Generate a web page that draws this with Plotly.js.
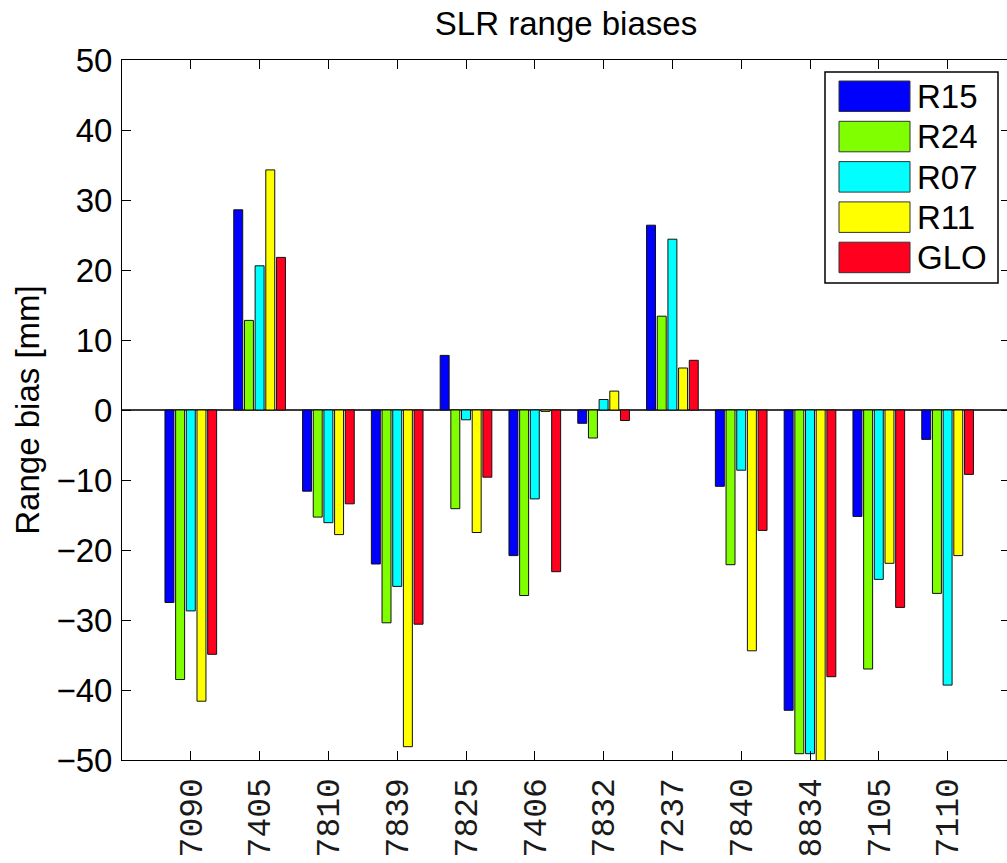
<!DOCTYPE html>
<html>
<head>
<meta charset="utf-8">
<script src="https://cdn.plot.ly/plotly-3.0.1.min.js"></script>
<style>
  html, body { margin: 0; padding: 0; overflow: hidden; background: #ffffff; }
  #chart { width: 1010px; height: 863px; }
</style>
</head>
<body>
<div id="chart"></div>
<script>
// ---- data ----
const stations = ['7090','7405','7810','7839','7825','7406','7832','7237','7840','8834','7105','7110'];
const R15 = [-27.5, 28.6, -11.6, -22.0,   7.8, -20.8, -1.9, 26.4, -10.9, -42.9, -15.2,  -4.2];
const R24 = [-38.5, 12.8, -15.3, -30.4, -14.1, -26.5, -4.0, 13.4, -22.1, -49.1, -37.0, -26.2];
const R07 = [-28.7, 20.6, -16.1, -25.2,  -1.4, -12.7,  1.5, 24.4,  -8.6, -49.1, -24.2, -39.3];
const R11 = [-41.6, 34.3, -17.8, -48.1, -17.5,  -0.2,  2.7,  6.0, -34.4, -52.0, -21.9, -20.8];
const GLO = [-34.9, 21.8, -13.4, -30.6,  -9.6, -23.1, -1.5,  7.1, -17.2, -38.1, -28.2,  -9.2];
const seriesNames = ['R15', 'R24', 'R07', 'R11', 'GLO'];
const seriesValues = [R15, R24, R07, R11, GLO];
const seriesColors = ['#0000ff', '#80ff00', '#00ffff', '#ffff00', '#ff001e'];
const yTickVals = [-50, -40, -30, -20, -10, 0, 10, 20, 30, 40, 50];

// ---- figure geometry (pixels) ----
const W = 1010, H = 863;
const M = { l: 122, r: 0, t: 60, b: 103 };
const plotW = W - M.l - M.r, plotH = H - M.t - M.b;
const px2x = p => (p - M.l) / plotW;
const py2y = p => 1 - (p - M.t) / plotH;

const sansFont = 'Liberation Sans, Arial, sans-serif';

const traces = seriesNames.map((name, i) => ({
  type: 'bar',
  name: name,
  x: stations,
  y: seriesValues[i],
  marker: { color: seriesColors[i], line: { color: '#111111', width: 1 } },
  showlegend: false,
  hoverinfo: 'x+y+name'
}));

// manual MATLAB-style legend built from the series names/colours
const shapes = [{
  type: 'rect', xref: 'paper', yref: 'paper', layer: 'above',
  x0: px2x(825), x1: px2x(998), y0: py2y(72), y1: py2y(283),
  fillcolor: '#ffffff', line: { color: '#000000', width: 1.5 }
}];
const annotations = [];
seriesNames.forEach((name, k) => {
  const top = 81 + 40.3 * k;
  shapes.push({
    type: 'rect', xref: 'paper', yref: 'paper', layer: 'above',
    x0: px2x(839), x1: px2x(910), y0: py2y(top), y1: py2y(top + 30.5),
    fillcolor: seriesColors[k], line: { color: '#333333', width: 1 }
  });
  annotations.push({
    xref: 'paper', yref: 'paper', x: px2x(915), y: py2y(top + 15.5),
    xanchor: 'left', yanchor: 'middle', showarrow: false,
    text: name, font: { family: sansFont, size: 33, color: '#000000' }
  });
});

const layout = {
  width: W, height: H,
  margin: M,
  paper_bgcolor: '#ffffff', plot_bgcolor: '#ffffff',
  font: { family: sansFont, size: 33, color: '#000000' },
  title: {
    text: 'SLR range biases',
    font: { family: sansFont, size: 33, color: '#000000' },
    xref: 'paper', x: 0.5, xanchor: 'center',
    yref: 'container', y: 1 - 23 / H, yanchor: 'middle'
  },
  barmode: 'group',
  bargap: 0.224,
  bargroupgap: 0.16,
  xaxis: {
    type: 'category',
    range: [-1, -1 + plotW / 68.8],
    showline: true, linecolor: '#000000', linewidth: 1, mirror: 'ticks',
    ticks: 'inside', ticklen: 9, tickcolor: '#000000', tickwidth: 1,
    tickangle: -90,
    tickfont: { family: 'Liberation Mono, Courier New, monospace', size: 33, color: '#1a1a1a' },
    ticklabelstandoff: 4,
    showgrid: false, zeroline: false, fixedrange: true
  },
  yaxis: {
    range: [-50, 50],
    tickvals: yTickVals,
    showline: true, linecolor: '#000000', linewidth: 1, mirror: 'ticks',
    ticks: 'inside', ticklen: 9, tickcolor: '#000000', tickwidth: 1,
    tickfont: { family: sansFont, size: 33, color: '#000000' },
    ticklabelstandoff: 2,
    showgrid: false,
    zeroline: true, zerolinecolor: '#3a3a3a', zerolinewidth: 1.2,
    title: { text: 'Range bias [mm]', font: { family: sansFont, size: 33, color: '#000000' }, standoff: 6 },
    fixedrange: true
  },
  shapes: shapes,
  annotations: annotations
};

Plotly.newPlot('chart', traces, layout, { displayModeBar: false, staticPlot: true });
</script>
</body>
</html>
